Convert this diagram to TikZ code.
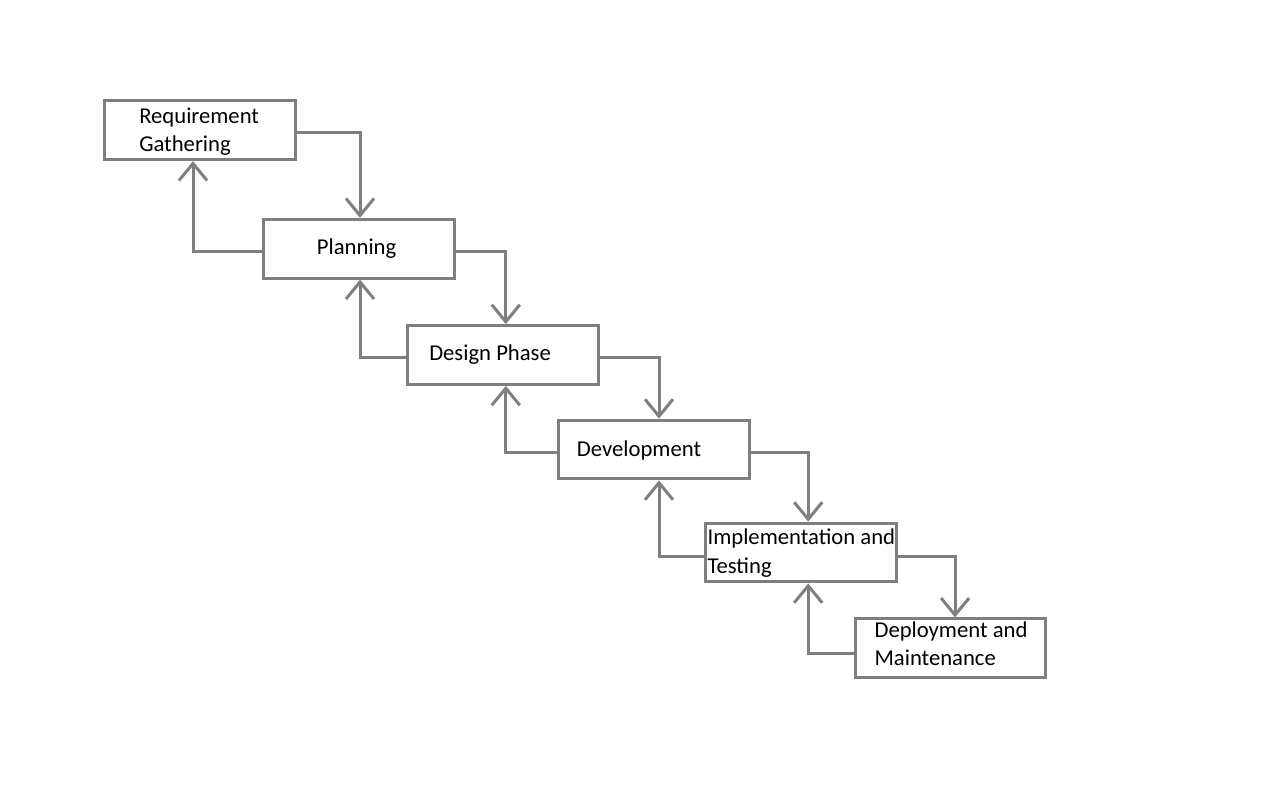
\documentclass[tikz,border=0pt]{standalone}
\usepackage{fontspec}
\setmainfont{Carlito}
\usetikzlibrary{arrows.meta}
\definecolor{edge}{RGB}{127,127,127}
\tikzstyle{box}=[rectangle, draw=edge, line width=2.25pt, minimum width=143pt, minimum height=44.1pt, inner sep=0pt]
\tikzset{flow/.style={draw=edge, line width=2.25pt, -{Straight Barb[length=12.75pt,width=21pt]}}}
\tikzset{phase/.style={anchor=base west, align=left, inner sep=0pt, font=\fontsize{17pt}{21.25pt}\selectfont}}
\begin{document}
\begin{tikzpicture}[x=0.75pt,y=-0.75pt]
  \useasboundingbox (0,0) rectangle (1274,786);
  \draw (200,130.2) node[box] (Req) {};
  \draw (359,248.7) node[box] (Plan) {};
  \draw (502.8,355) node[box] (Des) {};
  \draw (654,449.5) node[box] (Dev) {};
  \draw (801.2,552.5) node[box] (Imp) {};
  \draw (950.5,648.3) node[box] (Dep) {};

  %% Texts (base = last line)
  \draw (139,151.7) node[phase] (ReqText) {Requirement\\Gathering};
  \draw (316.7,254) node[phase] (PlanText) {Planning};
  \draw (429,360.7) node[phase] (DesText) {Design Phase};
  \draw (576.7,456.7) node[phase] (DevText) {Development};
  \draw (707.3,573.3) node[phase] (ImpText) {Implementation and\\Testing};
  \draw (874.3,665.7) node[phase] (DepText) {Deployment and\\Maintenance};

  %% Down the steps
  \draw[flow] ([yshift=-1.5pt]Req.east) -| ([xshift=0.75pt]Plan.north);
  \draw[flow] ([yshift=-2.25pt]Plan.east) -| ([xshift=2.25pt]Des.north);
  \draw[flow] ([yshift=-1.5pt]Des.east) -| ([xshift=3.75pt]Dev.north);
  \draw[flow] ([yshift=-2.6pt]Dev.east) -| ([xshift=5.25pt]Imp.north);
  \draw[flow] ([yshift=-3pt]Imp.east) -| ([xshift=3.4pt]Dep.north);

  %% Back up
  \draw[flow] ([yshift=-2.25pt]Plan.west) -| ([xshift=-5.25pt]Req.south);
  \draw[flow] ([yshift=-1.5pt]Des.west) -| ([xshift=0.75pt]Plan.south);
  \draw[flow] ([yshift=-2.6pt]Dev.west) -| ([xshift=2.25pt]Des.south);
  \draw[flow] ([yshift=-3pt]Imp.west) -| ([xshift=3.75pt]Dev.south);
  \draw[flow] ([yshift=-3.75pt]Dep.west) -| ([xshift=5.25pt]Imp.south);
\end{tikzpicture}
\end{document}
